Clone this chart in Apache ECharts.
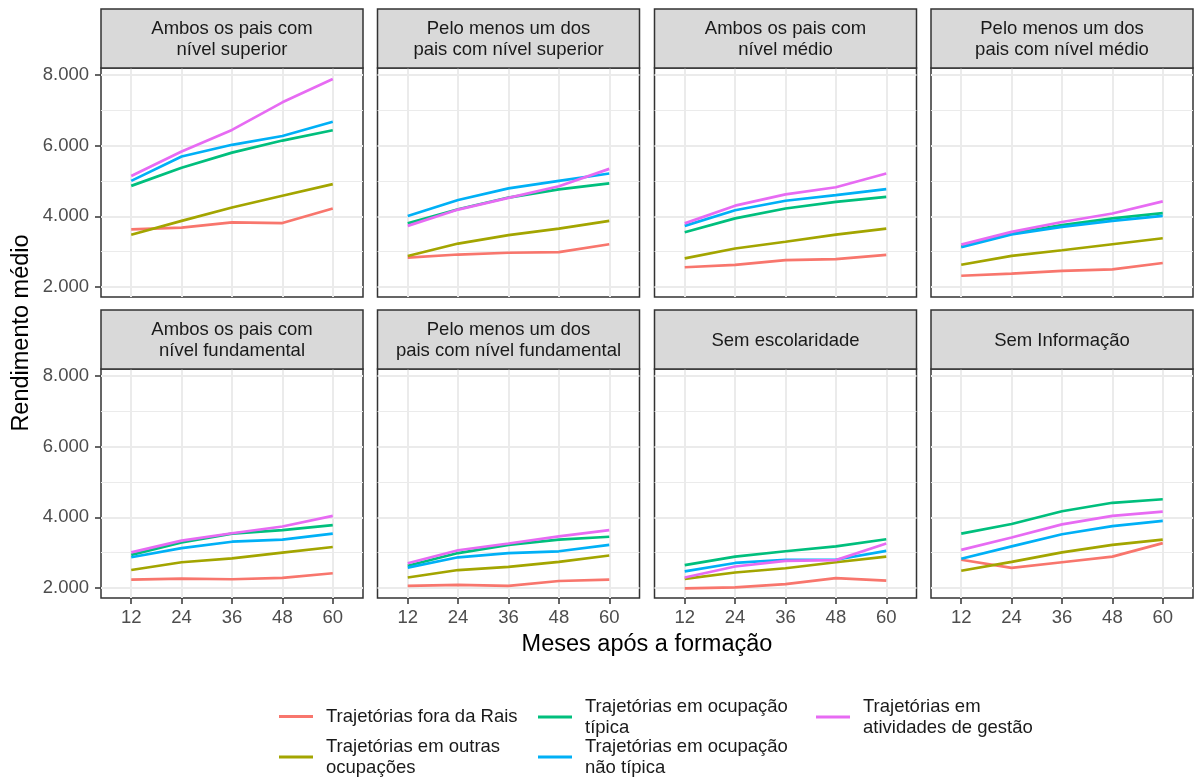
<!DOCTYPE html>
<html>
<head>
<meta charset="utf-8">
<script src="https://cdn.jsdelivr.net/npm/echarts@6/dist/echarts.min.js"></script>
<style>
  html, body { margin: 0; padding: 0; background: #fff; }
  #chart { width: 1194px; height: 778px; }
</style>
</head>
<body>
<div id="chart"></div>
<script>
// meses após a formação
const months = [12, 24, 36, 48, 60];
const yTicks = [2000, 4000, 6000, 8000];
const yMinor = [3000, 5000, 7000];

const panelTitles = [
  'Ambos os pais com\nnível superior',
  'Pelo menos um dos\npais com nível superior',
  'Ambos os pais com\nnível médio',
  'Pelo menos um dos\npais com nível médio',
  'Ambos os pais com\nnível fundamental',
  'Pelo menos um dos\npais com nível fundamental',
  'Sem escolaridade',
  'Sem Informação'
];

const trajetorias = [
  'Trajetórias fora da Rais',
  'Trajetórias em outras\nocupações',
  'Trajetórias em ocupação\ntípica',
  'Trajetórias em ocupação\nnão típica',
  'Trajetórias em\natividades de gestão'
];
const colors = ['#F8766D', '#A3A500', '#00BF7D', '#00B0F6', '#E76BF3'];

// uma linha por painel, na ordem de panelTitles
const foraDaRais = [
  [3630, 3680, 3830, 3810, 4220],
  [2830, 2920, 2970, 2990, 3210],
  [2560, 2630, 2760, 2790, 2910],
  [2320, 2380, 2460, 2500, 2680],
  [2240, 2270, 2250, 2290, 2420],
  [2060, 2090, 2060, 2200, 2240],
  [1990, 2020, 2110, 2280, 2210],
  [2800, 2570, 2730, 2890, 3270]
];
const outrasOcupacoes = [
  [3480, 3870, 4250, 4580, 4910],
  [2880, 3230, 3470, 3650, 3870],
  [2810, 3090, 3280, 3480, 3650],
  [2630, 2880, 3040, 3210, 3380],
  [2510, 2730, 2840, 3000, 3160],
  [2300, 2510, 2600, 2740, 2920],
  [2260, 2440, 2560, 2730, 2890],
  [2490, 2740, 3010, 3220, 3370]
];
const ocupacaoTipica = [
  [4860, 5370, 5800, 6140, 6430],
  [3800, 4200, 4530, 4760, 4930],
  [3550, 3940, 4220, 4410, 4550],
  [3150, 3510, 3750, 3940, 4090],
  [2940, 3290, 3540, 3640, 3780],
  [2630, 2990, 3220, 3370, 3450],
  [2650, 2890, 3040, 3180, 3380],
  [3540, 3810, 4170, 4410, 4510]
];
const ocupacaoNaoTipica = [
  [5000, 5690, 6020, 6270, 6670],
  [4010, 4460, 4790, 5000, 5210],
  [3730, 4170, 4440, 4600, 4770],
  [3130, 3490, 3700, 3870, 4010],
  [2870, 3130, 3310, 3370, 3540],
  [2580, 2870, 2990, 3040, 3220],
  [2470, 2710, 2800, 2800, 3050],
  [2830, 3180, 3520, 3750, 3900]
];
const atividadesGestao = [
  [5140, 5830, 6440, 7220, 7880],
  [3730, 4190, 4520, 4850, 5340],
  [3800, 4300, 4620, 4820, 5210],
  [3200, 3560, 3840, 4080, 4420],
  [3010, 3340, 3550, 3740, 4040],
  [2700, 3070, 3260, 3460, 3640],
  [2300, 2610, 2770, 2790, 3260],
  [3080, 3430, 3800, 4040, 4160]
];
const seriesValues = [foraDaRais, outrasOcupacoes, ocupacaoTipica, ocupacaoNaoTipica, atividadesGestao];

const FONT = '"Liberation Sans", Arial, sans-serif';
const colLeft = [101, 377.5, 654.5, 931];
const rowTop = [68, 369];
const panelW = 262;
const panelH = 229;
const stripH = 59;

const fmt = v => String(v).replace(/\B(?=(\d{3})+(?!\d))/g, '.');

const grids = [], xAxes = [], yAxes = [], series = [], graphics = [];

panelTitles.forEach((title, p) => {
  const col = p % 4, row = Math.floor(p / 4);
  grids.push({
    left: colLeft[col], top: rowTop[row], width: panelW, height: panelH,
    show: true, borderColor: '#333333', borderWidth: 1.5, backgroundColor: '#fff', z: 0
  });
  xAxes.push({
    type: 'value', gridIndex: p, min: 4.8, max: 67.2,
    axisLine: { show: false },
    axisTick: { show: row === 1, customValues: months, length: 6, lineStyle: { color: '#333333', width: 1.5 } },
    axisLabel: { show: row === 1, customValues: months, margin: 10, fontSize: 18.5, color: '#4D4D4D', fontFamily: FONT },
    splitLine: { show: true, lineStyle: { color: '#EBEBEB', width: 2 } }
  });
  // eixo principal
  yAxes.push({
    type: 'value', gridIndex: p, min: 1720, max: 8190,
    axisLine: { show: false },
    axisTick: { show: col === 0, customValues: yTicks, length: 6, lineStyle: { color: '#333333', width: 1.5 } },
    axisLabel: { show: col === 0, customValues: yTicks, margin: 12, fontSize: 18.5, color: '#4D4D4D', fontFamily: FONT, formatter: fmt },
    splitLine: { show: true, lineStyle: { color: '#EBEBEB', width: 2 } }
  });
  // linhas secundárias
  yAxes.push({
    type: 'value', gridIndex: p, min: 1720, max: 8190,
    axisLine: { show: false },
    axisTick: { show: false, customValues: yMinor },
    axisLabel: { show: false, customValues: yMinor },
    splitLine: { show: true, lineStyle: { color: '#EBEBEB', width: 1 } }
  });

  seriesValues.forEach((vals, s) => {
    series.push({
      name: trajetorias[s],
      type: 'line',
      xAxisIndex: p,
      yAxisIndex: p * 2,
      data: months.map((m, i) => [m, vals[p][i]]),
      symbol: 'none',
      lineStyle: { color: colors[s], width: 2.7 },
      itemStyle: { color: colors[s] },
      emphasis: { disabled: true },
      animation: false,
      z: 3 + s
    });
  });

  // faixa do título do painel
  graphics.push({
    type: 'rect',
    shape: { x: colLeft[col], y: rowTop[row] - stripH, width: panelW, height: stripH },
    style: { fill: '#D9D9D9', stroke: '#333333', lineWidth: 1.5 },
    z: 10
  });
  graphics.push({
    type: 'text',
    x: colLeft[col] + panelW / 2,
    y: rowTop[row] - stripH / 2 + 1,
    style: {
      text: title, fill: '#1A1A1A', font: '18.5px ' + FONT,
      align: 'center', verticalAlign: 'middle', lineHeight: 21
    },
    z: 11
  });
});

// títulos dos eixos
graphics.push({
  type: 'text', x: 647, y: 645,
  style: { text: 'Meses após a formação', fill: '#000', font: '23.5px ' + FONT, align: 'center', verticalAlign: 'middle' }
});
graphics.push({
  type: 'text', x: 22, y: 333, rotation: Math.PI / 2,
  style: { text: 'Rendimento médio', fill: '#000', font: '23.5px ' + FONT, align: 'center', verticalAlign: 'middle' }
});

// legenda em 3 colunas, preenchida por coluna
const legendPos = [
  { left: 279, top: 706 },
  { left: 279, top: 736 },
  { left: 538, top: 696 },
  { left: 538, top: 736 },
  { left: 816, top: 696 }
];
const legends = trajetorias.map((name, i) => ({
  data: [name],
  left: legendPos[i].left,
  top: legendPos[i].top,
  padding: 0,
  icon: 'rect',
  itemWidth: 34,
  itemHeight: 3,
  selectedMode: false,
  textStyle: { fontSize: 18.5, color: '#1A1A1A', fontFamily: FONT, lineHeight: 21, padding: [0, 0, 0, 8] }
}));

const myChart = echarts.init(document.getElementById('chart'));
myChart.setOption({
  animation: false,
  backgroundColor: '#fff',
  grid: grids,
  xAxis: xAxes,
  yAxis: yAxes,
  legend: legends,
  series: series,
  graphic: graphics
});
</script>
</body>
</html>
